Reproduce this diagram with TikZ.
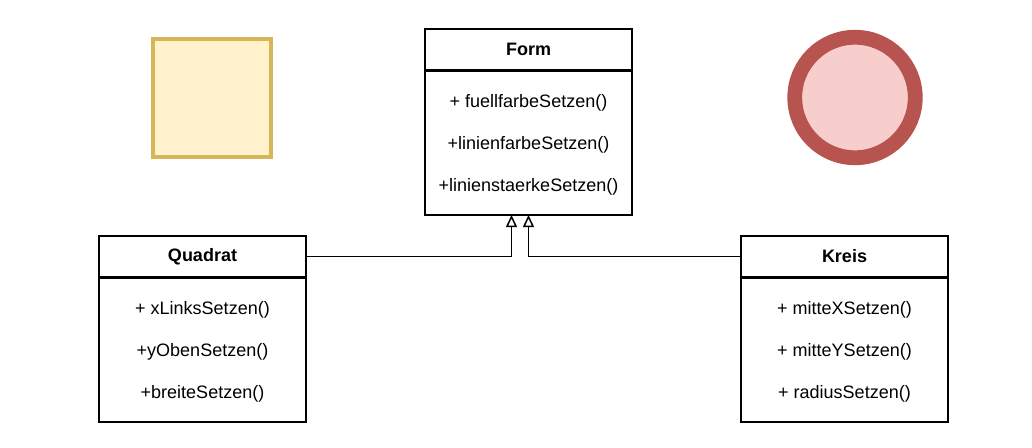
\documentclass[tikz,border=0pt]{standalone}
\usepackage{fontspec}
\setmainfont{Liberation Sans}
\usetikzlibrary{positioning,arrows.meta}
\definecolor{gelbrand}{HTML}{D6B656}
\definecolor{gelbfuell}{HTML}{FFF2CC}
\definecolor{rotrand}{HTML}{B85450}
\definecolor{rotfuell}{HTML}{F8CECC}
\newcommand{\obenstrut}{\rule{0pt}{17pt}}

\begin{document}
\begin{tikzpicture}[x=1pt, y=-1pt, line width=1.5pt,
    kopf/.style={draw, outer sep=0pt, inner sep=0pt, minimum width=207pt, minimum height=41pt,
      font=\fontsize{18}{22}\selectfont\bfseries},
    rumpf/.style={draw, outer sep=0pt, inner sep=0pt, minimum width=207pt, minimum height=145pt,
      align=center, font=\fontsize{18}{42}\selectfont},
    trenner/.style={line width=3pt},
    erbt/.style={-{Triangle[open, length=12pt, width=11pt]}}]
    \useasboundingbox (0,0) rectangle (1032,447);

    % Klassen
    \node[kopf] (form) at (528.5,49.5) {Form};
    \node[rumpf, below=0pt of form] (formbody)
      {\obenstrut+ fuellfarbeSetzen()\\+linienfarbeSetzen()\\+linienstaerkeSetzen()};
    \node[kopf] (quadrat) at (202.5,256.5) {Quadrat};
    \node[rumpf, below=0pt of quadrat] (quadratbody)
      {\obenstrut+ xLinksSetzen()\\+yObenSetzen()\\+breiteSetzen()};
    \node[kopf] (kreis) at (844.5,256.5) {Kreis};
    \node[rumpf, below=0pt of kreis] (kreisbody)
      {\obenstrut+ mitteXSetzen()\\+ mitteYSetzen()\\+ radiusSetzen()};

    \draw[trenner] (form.south west) -- (form.south east);
    \draw[trenner] (quadrat.south west) -- (quadrat.south east);
    \draw[trenner] (kreis.south west) -- (kreis.south east);

    % Vererbung
    \draw[erbt] (quadrat.east) -| ([xshift=-17pt]formbody.south);
    \draw[erbt] (kreis.west) -| (formbody.south);

    % Figuren
    \node[draw=gelbrand, fill=gelbfuell, line width=4pt, minimum size=118pt, inner sep=0pt]
      (quadratbild) at (212,98) {};
    \node[circle, draw=rotrand, fill=rotfuell, line width=14.8pt, minimum size=120.5pt, inner sep=0pt]
      (kreisbild) at (855,97.5) {};
\end{tikzpicture}
\end{document}
